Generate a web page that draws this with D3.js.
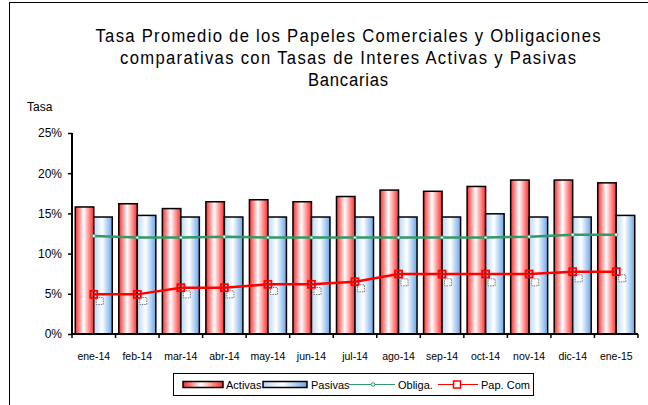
<!DOCTYPE html>
<html><head><meta charset="utf-8">
<script src="https://cdn.jsdelivr.net/npm/d3@7"></script>
<style>body{margin:0;background:#fff}svg{display:block;font-family:"Liberation Sans",Arial,sans-serif}</style>
</head><body><svg id="c" width="648" height="405"></svg>
<script>
const categories=["ene-14","feb-14","mar-14","abr-14","may-14","jun-14","jul-14","ago-14","sep-14","oct-14","nov-14","dic-14","ene-15"];
const activas=[15.8,16.2,15.6,16.45,16.7,16.45,17.1,17.9,17.75,18.35,19.15,19.15,18.8];
const pasivas=[14.55,14.75,14.55,14.55,14.55,14.55,14.55,14.55,14.55,14.95,14.55,14.55,14.75];
const obliga=[12.2,12.0,12.0,12.1,12.0,12.0,12.0,12.0,12.0,12.0,12.1,12.35,12.35];
const papCom=[4.93,4.93,5.76,5.76,6.18,6.18,6.5,7.46,7.46,7.46,7.46,7.75,7.75];
const ghost=[4.1,4.1,4.93,4.93,5.35,5.35,5.68,6.43,6.43,6.43,6.43,6.93,6.93];
const yTicks=[0,5,10,15,20,25];
const titleLines=["Tasa Promedio de los Papeles Comerciales y Obligaciones","comparativas con  Tasas de Interes Activas  y  Pasivas","Bancarias"];

const svg=d3.select("#c");
const L=72,R=638,T=133,B=334;
const x=d3.scaleBand().domain(categories).range([L,R]).paddingInner(0.15).paddingOuter(0.075);
const xs=d3.scaleBand().domain(["a","p"]).range([0,x.bandwidth()]);
const y=d3.scaleLinear().domain([0,25]).range([B,T]);

const defs=svg.append("defs");
const gA=defs.append("linearGradient").attr("id","gA");
[[0,"#ff2a2a"],[0.45,"#ffffff"],[1,"#ff2a2a"]].forEach(([o,c])=>gA.append("stop").attr("offset",o).attr("stop-color",c));
const gP=defs.append("linearGradient").attr("id","gP");
[[0,"#b9d6f5"],[0.45,"#ffffff"],[1,"#6aa6e8"]].forEach(([o,c])=>gP.append("stop").attr("offset",o).attr("stop-color",c));

// frame
svg.append("rect").attr("x",9.5).attr("y",2.5).attr("width",700).attr("height",500).attr("fill","none").attr("stroke","#000").attr("stroke-width",1);

const sx=0.9;
const titleWidths=[505,456,80];
svg.append("g").attr("text-anchor","middle").attr("font-size",18.5).attr("font-family","'Liberation Sans',Arial,sans-serif")
 .selectAll("text").data(titleLines).join("text")
 .attr("x",348).attr("y",(d,i)=>42+i*22).text(d=>d)
 .attr("textLength",(d,i)=>titleWidths[i]/sx).attr("lengthAdjust","spacing")
 .attr("transform",`translate(348,0) scale(${sx},1) translate(-348,0)`);
svg.append("text").attr("x",27).attr("y",111).attr("font-size",12).text("Tasa");

// bars
const barG=svg.append("g");
categories.forEach((c,i)=>{
  barG.append("rect").attr("x",x(c)+xs("a")).attr("y",y(activas[i])).attr("width",xs.bandwidth()).attr("height",B-y(activas[i]))
   .attr("fill","url(#gA)").attr("stroke","#000").attr("stroke-width",1.5);
  barG.append("rect").attr("x",x(c)+xs("p")).attr("y",y(pasivas[i])).attr("width",xs.bandwidth()).attr("height",B-y(pasivas[i]))
   .attr("fill","url(#gP)").attr("stroke","#000").attr("stroke-width",1.5);
});

// axes
const yAxis=d3.axisLeft(y).tickValues(yTicks).tickFormat(d=>d+"%").tickSize(4).tickPadding(6);
const ga=svg.append("g").attr("transform",`translate(${L},0)`).call(yAxis);
ga.select(".domain").attr("stroke-width",2).attr("d",`M0,${T}V${B}`);
ga.selectAll(".tick line").attr("stroke-width",1.5);
ga.selectAll("text").attr("font-size",12).attr("font-family","Liberation Sans,Arial,sans-serif").attr("fill","#000");

const step=x.step();
const xb=svg.append("g");
xb.append("line").attr("x1",L).attr("x2",R).attr("y1",B).attr("y2",B).attr("stroke","#000").attr("stroke-width",2);
d3.range(categories.length+1).forEach(i=>{
  xb.append("line").attr("x1",L+i*step).attr("x2",L+i*step).attr("y1",B).attr("y2",B+4).attr("stroke","#000").attr("stroke-width",1.5);
});
xb.selectAll("text").data(categories).join("text").attr("x",d=>x(d)+x.bandwidth()/2).attr("y",360)
 .attr("text-anchor","middle").attr("font-size",10.5).text(d=>d);

const cx=c=>x(c)+x.bandwidth()/2;
// ghost markers
svg.append("g").selectAll("rect").data(ghost).join("rect")
 .attr("x",(d,i)=>cx(categories[i])+6-3.5).attr("y",d=>y(d)-3.5).attr("width",7).attr("height",7)
 .attr("fill","#fff").attr("stroke","#777").attr("stroke-width",1).attr("stroke-dasharray","1.5,1");

// lines
const line=d3.line().x((d,i)=>cx(categories[i])).y(d=>y(d));
svg.append("path").datum(obliga).attr("d",line).attr("fill","none").attr("stroke","#339966").attr("stroke-width",2.5);
svg.append("g").selectAll("circle").data(obliga).join("circle").attr("cx",(d,i)=>cx(categories[i])).attr("cy",d=>y(d))
 .attr("r",1.6).attr("fill","#fff").attr("stroke","#339966").attr("stroke-width",0.8);
svg.append("path").datum(papCom).attr("d",line).attr("fill","none").attr("stroke","#ff0000").attr("stroke-width",2.5);
svg.append("g").selectAll("rect").data(papCom).join("rect").attr("x",(d,i)=>cx(categories[i])-3.5).attr("y",d=>y(d)-3.5)
 .attr("width",7).attr("height",7).attr("fill","none").attr("stroke","#ff0000").attr("stroke-width",1.8);

// legend
const lg=svg.append("g").attr("font-size",11);
lg.append("rect").attr("x",173.5).attr("y",373.5).attr("width",360).attr("height",22).attr("fill","#fff").attr("stroke","#000");
const ly=384.5;
lg.append("rect").attr("x",183).attr("y",ly-3).attr("width",40).attr("height",6).attr("fill","url(#gA)").attr("stroke","#000").attr("stroke-width",1.5);
lg.append("text").attr("x",226).attr("y",ly+4).text("Activas");
lg.append("rect").attr("x",263).attr("y",ly-3).attr("width",44).attr("height",6).attr("fill","url(#gP)").attr("stroke","#000").attr("stroke-width",1.5);
lg.append("text").attr("x",311).attr("y",ly+4).text("Pasivas");
lg.append("line").attr("x1",349).attr("x2",395).attr("y1",ly).attr("y2",ly).attr("stroke","#339966").attr("stroke-width",1);
lg.append("circle").attr("cx",373).attr("cy",ly).attr("r",1.8).attr("fill","#fff").attr("stroke","#339966");
lg.append("text").attr("x",398).attr("y",ly+4).text("Obliga.");
lg.append("line").attr("x1",438).attr("x2",478).attr("y1",ly).attr("y2",ly).attr("stroke","#ff0000").attr("stroke-width",1);
lg.append("rect").attr("x",453.5).attr("y",ly-3.5).attr("width",7).attr("height",7).attr("fill","#fff").attr("stroke","#ff0000").attr("stroke-width",1.5);
lg.append("text").attr("x",481).attr("y",ly+4).text("Pap. Com");
</script></body></html>
